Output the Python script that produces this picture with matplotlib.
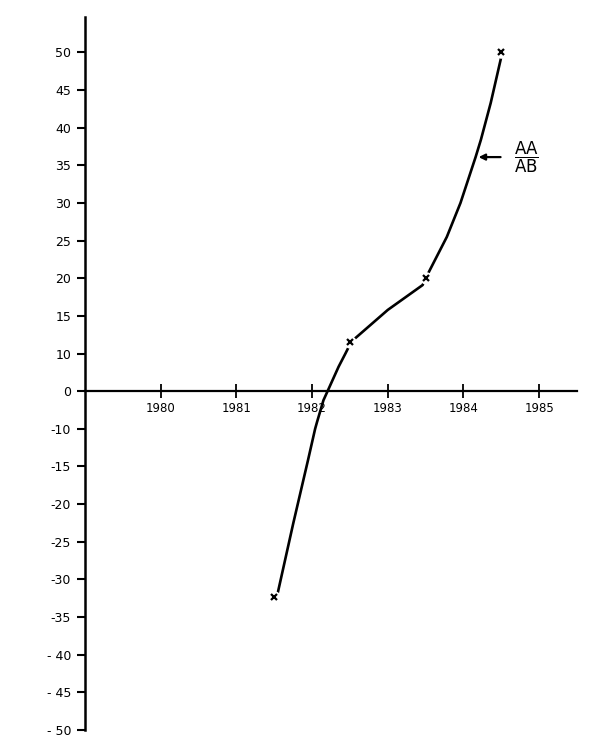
#!/usr/bin/env python3
"""AA/AB ratio by year, hand-lettered style chart (x-axis through zero)."""
import numpy as np
import matplotlib
matplotlib.use('Agg')
import matplotlib.pyplot as plt

# marked observations
years = [1981.5, 1982.5, 1983.5, 1984.5]
values = [-32.3, 11.6, 20.1, 50.0]

# points
curve_years = [1981.535, 1981.75, 1981.945, 1982.04, 1982.065, 1982.15, 1982.22,
               1982.35, 1982.44, 1982.52, 1983.0, 1983.46, 1983.51,
               1983.78, 1983.96, 1984.16, 1984.23, 1984.36, 1984.49, 1984.51]
curve_values = [-32.3, -22.6, -14.2, -10.0, -8.2, -2.4, 0.7,
                6.5, 10.0, 11.6, 15.8, 19.1, 20.2,
                25.5, 30.0, 36.1, 38.4, 43.3, 49.0, 50.0]

ytick_vals = [50, 45, 40, 35, 30, 25, 20, 15, 10, 0,
              -10, -15, -20, -25, -30, -35, -40, -45, -50]
ytick_labels = ['50', '45', '40', '35', '30', '25', '20', '15', '10', '0',
                '-10', '-15', '-20', '-25', '-30', '-35', '- 40', '- 45', '- 50']
xtick_vals = [1980, 1981, 1982, 1983, 1984, 1985]
xtick_labels = ['1980', '1981', '1982', '1983', '1984', '1985']

label_text = r'$\dfrac{\mathsf{AA}}{\mathsf{AB}}$'
label_year, label_value = 1984.83, 36.1
arrow_tip_year, arrow_tail_year = 1984.2, 1984.49


# the drawn axis skips 5 and -5: ticks are evenly spaced but 10 -> 0 -> -10
def fwd(v):
    v = np.asarray(v, float)
    return np.where(v >= 10, v - 5, np.where(v <= -10, v + 5, v / 2))


def inv(p):
    p = np.asarray(p, float)
    return np.where(p >= 5, p + 5, np.where(p <= -5, p - 5, p * 2))


plt.rcParams['font.family'] = 'DejaVu Sans'
plt.rcParams['mathtext.fontset'] = 'dejavusans'

fig = plt.figure(figsize=(6, 7.52), dpi=100)
ax = fig.add_axes([0.1417, 0.0293, 0.82, 0.948])
ax.set_yscale('function', functions=(fwd, inv))

ax.plot(curve_years, curve_values, color='black', lw=1.9, zorder=2,
        solid_capstyle='butt', solid_joinstyle='round')
ax.plot(years, values, ls='none', marker='o', ms=9, mfc='white', mec='none',
        zorder=3)
ax.plot(years, values, ls='none', marker='x', ms=4.5, mew=1.6, color='black',
        zorder=4)

ax.set_xlim(1979, 1985.5)
ax.set_ylim(-50, 54.7)

for s in ['top', 'right']:
    ax.spines[s].set_visible(False)
ax.spines['left'].set_linewidth(1.8)
ax.spines['bottom'].set_position(('data', 0))
ax.spines['bottom'].set_linewidth(1.6)
ax.spines['bottom'].set_zorder(1)

ax.set_yticks(ytick_vals)
ax.set_yticklabels(ytick_labels, fontsize=9)
ax.yaxis.set_minor_locator(matplotlib.ticker.NullLocator())
ax.tick_params(axis='y', direction='out', length=6, width=1.5, pad=4)

ax.set_xticks(xtick_vals)
ax.set_xticklabels(xtick_labels, fontsize=8.5)
ax.tick_params(axis='x', direction='inout', length=10, width=1.3, pad=3)
for t in ax.get_xticklabels():
    t.set_bbox(dict(facecolor='white', edgecolor='none', pad=1.5))

ax.annotate('', xy=(arrow_tip_year, label_value),
            xytext=(arrow_tail_year, label_value),
            arrowprops=dict(arrowstyle='-|>', color='black', lw=1.6,
                            mutation_scale=9, shrinkA=0, shrinkB=0))
ax.text(label_year, label_value, label_text, fontsize=12,
        ha='center', va='center')

fig.savefig('out.png', dpi=100)
